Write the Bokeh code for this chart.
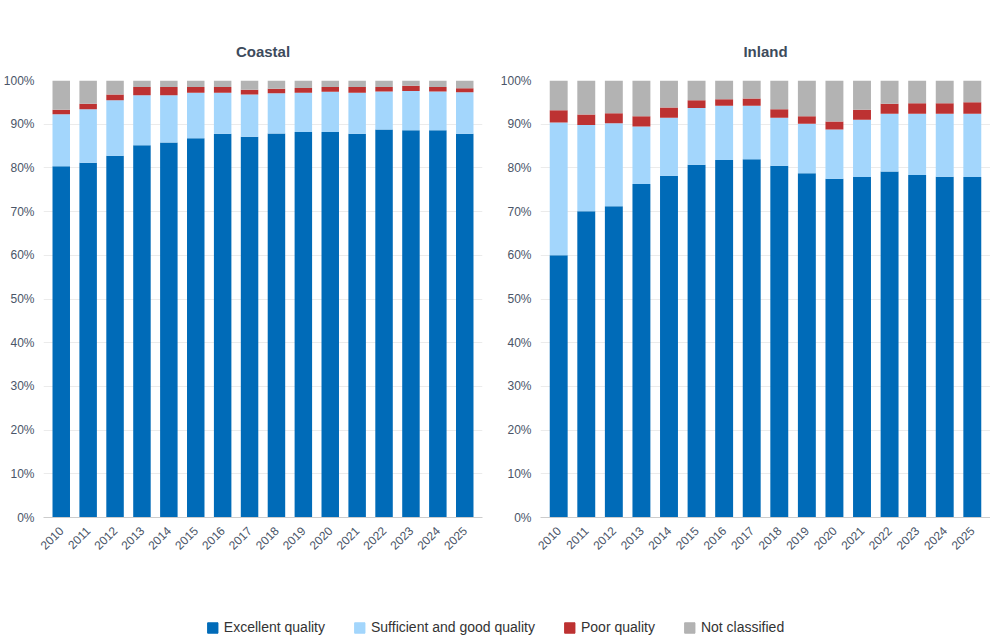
from bokeh.plotting import figure
from bokeh.layouts import column, row
from bokeh.models import FactorRange, Range1d, NumeralTickFormatter, Legend, LegendItem
from bokeh.embed import file_html
from bokeh.resources import INLINE

years = [str(y) for y in range(2010, 2026)]
series = ["Excellent quality", "Sufficient and good quality", "Poor quality", "Not classified"]
colors = ["#006bb8", "#a3d6fc", "#bd3232", "#b3b3b3"]

# cumulative tops (%)
coastal_exc = [80.4, 81.2, 82.8, 85.2, 85.8, 86.8, 87.8, 87.1, 87.9, 88.2, 88.2, 87.8, 88.8, 88.6, 88.6, 87.8]
coastal_suf_top = [92.3, 93.4, 95.5, 96.6, 96.6, 97.2, 97.2, 96.8, 97.1, 97.2, 97.4, 97.2, 97.5, 97.6, 97.5, 97.3]
coastal_poor_top = [93.3, 94.7, 96.8, 98.5, 98.5, 98.5, 98.5, 97.9, 98.1, 98.3, 98.5, 98.5, 98.5, 98.8, 98.5, 98.2]

inland_exc = [60.0, 70.1, 71.2, 76.3, 78.2, 80.7, 81.8, 82.0, 80.5, 78.8, 77.5, 77.9, 79.2, 78.4, 78.0, 77.9]
inland_suf_top = [90.4, 89.8, 90.2, 89.5, 91.5, 93.7, 94.2, 94.2, 91.5, 90.1, 88.8, 91.0, 92.4, 92.4, 92.4, 92.4]
inland_poor_top = [93.2, 92.2, 92.5, 91.8, 93.8, 95.5, 95.7, 95.9, 93.4, 91.8, 90.6, 93.3, 94.7, 94.8, 94.8, 95.0]

def make_data(exc, suf, poor):
    return {
        "year": years,
        "Excellent quality": [e / 100 for e in exc],
        "Sufficient and good quality": [(s - e) / 100 for s, e in zip(suf, exc)],
        "Poor quality": [(p - s) / 100 for p, s in zip(poor, suf)],
        "Not classified": [(100 - p) / 100 for p in poor],
    }

def make_fig(title, data, w, bl, br):
    p = figure(x_range=FactorRange(*years), y_range=Range1d(0, 1), width=w, height=596,
               title=title, output_backend="svg", toolbar_location=None,
               min_border_top=80, min_border_bottom=79, min_border_left=bl, min_border_right=br)
    p.vbar_stack(series, x="year", width=0.65, color=colors, source=data, line_color=None)
    p.title.align = "center"
    p.title.standoff = 42
    p.title.text_font = "Liberation Sans"
    p.title.text_font_size = "15px"
    p.title.text_color = "#3d4b5c"
    p.title.text_font_style = "bold"
    p.yaxis.formatter = NumeralTickFormatter(format="0%")
    p.yaxis.ticker = [i / 10 for i in range(11)]
    p.yaxis.major_label_standoff = 3
    p.xaxis.major_label_orientation = 0.785
    for ax in (p.xaxis, p.yaxis):
        ax.major_label_text_font = "Liberation Sans"
        ax.major_label_text_font_size = "12px"
        ax.major_label_text_color = "#4a5568"
        ax.major_tick_line_color = None
        ax.minor_tick_line_color = None
    p.yaxis.axis_line_color = None
    p.xaxis.axis_line_color = "#cccccc"
    p.xgrid.grid_line_color = None
    p.ygrid.grid_line_color = "#ebebeb"
    p.outline_line_color = None
    p.x_range.range_padding = 0.02
    return p

p1 = make_fig("Coastal", make_data(coastal_exc, coastal_suf_top, coastal_poor_top), 492, 32, 10)
p2 = make_fig("Inland", make_data(inland_exc, inland_suf_top, inland_poor_top), 498, 48, 0)

lg = figure(width=990, height=62, x_range=Range1d(0, 1), y_range=Range1d(0, 1),
            output_backend="svg", toolbar_location=None, min_border=0)
lg.axis.visible = False
lg.grid.visible = False
lg.outline_line_color = None
items = []
for s, c in zip(series, colors):
    r = lg.vbar(x=[-5], top=[-5], width=0.1, color=c)
    items.append(LegendItem(label=s, renderers=[r]))
leg = Legend(items=items, orientation="horizontal", location="center",
             label_text_font="Liberation Sans", label_text_font_size="14px",
             label_text_color="#333333", border_line_color=None, spacing=28,
             glyph_width=13, glyph_height=13, background_fill_alpha=0)
lg.add_layout(leg, "center")

layout = column(row(p1, p2), lg)
open("out.html", "w").write(file_html(layout, INLINE))
